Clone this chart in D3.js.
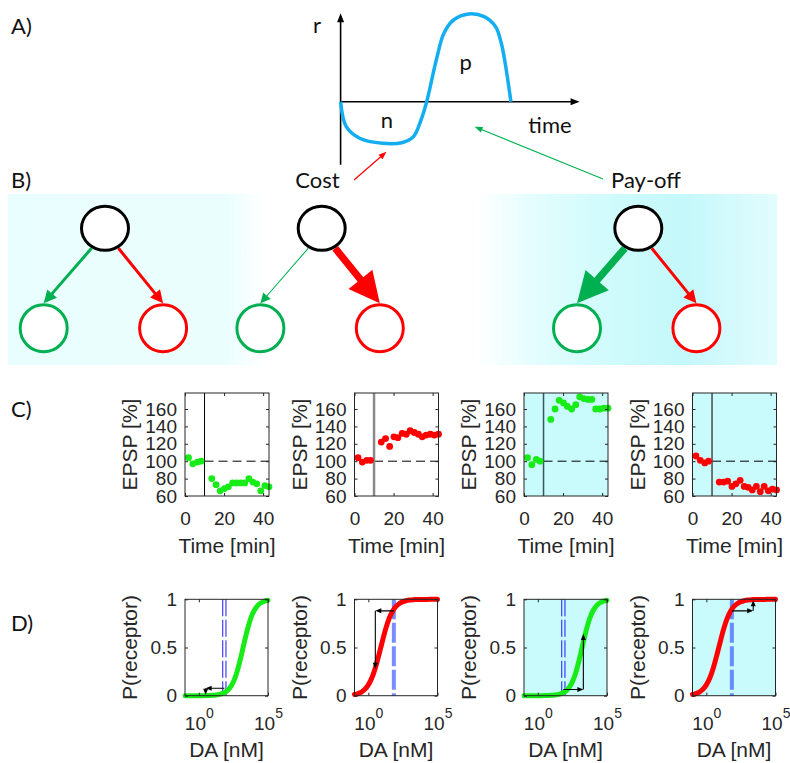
<!DOCTYPE html>
<html><head><meta charset="utf-8">
<script src="https://cdn.jsdelivr.net/npm/d3@7"></script>
<style>body{margin:0;background:#fff} svg{display:block}</style>
</head><body>
<svg id="fig" width="790" height="763"></svg>
<script>
// ================= DATA =================
// Panel A: schematic reward signal r(time)
const aTime = [0, 5.7, 19, 42, 61, 72.7, 80.4, 86.1, 95.7, 103.3, 112.9, 128.2, 143.5, 155, 160.7, 164.6, 170.3];
const aR    = [0, -25, -36.6, -41.6, -41, -35, -18.3, 0, 41.7, 68.4, 81.7, 87.7, 85, 75, 58.4, 38.4, 0];
const aLabels = ["r", "n", "p", "time"];
const aAnnot = ["Cost", "Pay-off"];

// Panel B: relative synaptic weights (green = go, red = no-go) for three trees
const bGreenWeight = [1, 0.35, 2.4];
const bRedWeight   = [1, 2.4, 1];

// Panel C: EPSP [%] vs time [min]
const cPreTime  = [1.8, 4, 6.3, 8.2];
const cPostTime = [13.7, 15.9, 18, 20.2, 22.2, 24.4, 26.5, 28.5, 30.6, 32.7, 34.7, 36.7, 38.8, 40.9, 43];
const cPre1  = [104, 97, 99, 100];
const cPost1 = [80, 73, 66, 68.5, 70.5, 75, 75, 75, 75, 80, 76, 74, 66, 72, 70.5];
const cPre2  = [104, 99, 101, 101];
const cPost2 = [122, 126, 117, 128, 127, 132, 131, 135, 133, 131, 128, 130, 131, 130, 131];
const cPre3  = [104, 96, 102, 100];
const cPost3 = [148, 160, 170, 167, 163, 160, 165, 174, 172, 171, 171, 160, 160, 161, 161];
const cPre4  = [106, 101, 98, 100];
const cPost4 = [76, 76, 77, 71, 74, 78, 71, 70, 67, 71, 65, 71, 66, 68, 67];
const cStimTime = 10;
const cTicksX = [0, 20, 40];
const cTicksY = [60, 80, 100, 120, 140, 160];

// Panel D: receptor occupancy vs DA [nM]
const dLogDA = [-1, -0.75, -0.5, -0.25, 0, 0.25, 0.5, 0.75, 1, 1.25, 1.5, 1.75, 2, 2.25, 2.5, 2.75, 3, 3.25, 3.5, 3.75, 4, 4.25, 4.5, 4.75, 5];
const dGreen = [0, 0.0001, 0.0001, 0.0002, 0.0003, 0.0006, 0.0011, 0.002, 0.004, 0.007, 0.013, 0.025, 0.046, 0.083, 0.145, 0.242, 0.376, 0.532, 0.681, 0.801, 0.884, 0.935, 0.964, 0.981, 0.99];
const dRed   = [0.012, 0.022, 0.038, 0.066, 0.112, 0.183, 0.285, 0.415, 0.557, 0.691, 0.799, 0.876, 0.926, 0.957, 0.976, 0.986, 0.992, 0.996, 0.997, 0.998, 0.999, 0.999, 1, 1, 1];
const dBaselineDA = 70;
const dArrowDA = [[70, 3.1, 3.1], [70, 3.2, 3.2], [70, 1950, 1950], [70, 2450, 2450]];
const dArrowP  = [[0.077, 0.077, 0.01], [0.88, 0.88, 0.28], [0.065, 0.065, 0.64], [0.88, 0.88, 0.99]];
const dTicksX = [1, 1e5];
const dTicksY = [0, 0.5, 1];

// ================= STYLE / LAYOUT =================
const INK = "#262626";
const GREEN = "#18ec18", RED = "#ff0000", OGREEN = "#00b050", CYAN = "#c9fafc", BLUE_A = "#14aef0";
const FONT_AX = "'Liberation Sans', Arial, sans-serif";
const FONT_LB = "Lato, 'Open Sans', sans-serif";
const svg = d3.select("#fig");
const defs = svg.append("defs");

function arrowPath(x1, y1, x2, y2, w, hl, hw) {
  const dx = x2 - x1, dy = y2 - y1, L = Math.hypot(dx, dy), ux = dx / L, uy = dy / L, nx = -uy, ny = ux;
  const bx = x2 - ux * hl, by = y2 - uy * hl;
  const p = [[x1 + nx * w / 2, y1 + ny * w / 2], [bx + nx * w / 2, by + ny * w / 2], [bx + nx * hw / 2, by + ny * hw / 2],
             [x2, y2], [bx - nx * hw / 2, by - ny * hw / 2], [bx - nx * w / 2, by - ny * w / 2], [x1 - nx * w / 2, y1 - ny * w / 2]];
  return "M" + p.map(q => q[0].toFixed(2) + "," + q[1].toFixed(2)).join("L") + "Z";
}

// panel letters
const panelLetters = ["A)", "B)", "C)", "D)"];
const panelLetterY = [34, 188, 417, 631];
panelLetters.forEach((t, i) => svg.append("text").attr("x", 11).attr("y", panelLetterY[i])
  .attr("font-family", FONT_LB).attr("font-size", 22).attr("fill", "#111").text(t));

// ================= PANEL B background =================
const grad = defs.append("linearGradient").attr("id", "bgB").attr("gradientUnits", "userSpaceOnUse")
  .attr("x1", 8).attr("x2", 777).attr("y1", 0).attr("y2", 0);
[[8, "#e9fefe"], [228, "#ebfefe"], [262, "#ffffff"], [476, "#ffffff"], [533, "#e4fdfd"], [600, "#d2fbfc"],
 [683, "#c4f8fa"], [717, "#cff9fb"], [777, "#e2fcfd"]].forEach(s =>
  grad.append("stop").attr("offset", ((s[0] - 8) / 769).toFixed(4)).attr("stop-color", s[1]));
svg.append("rect").attr("x", 8).attr("y", 194).attr("width", 769).attr("height", 171).attr("fill", "url(#bgB)");

// ================= PANEL A =================
const xA = d3.scaleLinear().domain([0, 239]).range([340.6, 579.6]);
const yA = d3.scaleLinear().domain([-63, 88]).range([164.7, 13.7]);
const gA = svg.append("g");
gA.append("path").attr("d", arrowPath(xA(0), yA(-63), xA(0), yA(88.5), 1.6, 9, 7)).attr("fill", "#000");
gA.append("path").attr("d", arrowPath(xA(0), yA(0), xA(239), yA(0), 1.6, 9, 7)).attr("fill", "#000");
gA.append("path").datum(aTime.map((t, i) => [t, aR[i]]))
  .attr("d", d3.line().x(d => xA(d[0])).y(d => yA(d[1])).curve(d3.curveCatmullRom.alpha(0.5)))
  .attr("fill", "none").attr("stroke", BLUE_A).attr("stroke-width", 3.5);
const aLabelPos = [[-23.6, 68.7], [46.4, -26.3], [125, 31.7], [209.4, -31.3]];
aLabels.forEach((t, i) => gA.append("text").attr("x", xA(aLabelPos[i][0])).attr("y", yA(aLabelPos[i][1]))
  .attr("text-anchor", "middle").attr("font-family", FONT_LB).attr("font-size", 22).attr("fill", "#111").text(t));
const aAnnotPos = [[-23.1, -86.3], [305.4, -86.3]];
aAnnot.forEach((t, i) => gA.append("text").attr("x", xA(aAnnotPos[i][0])).attr("y", yA(aAnnotPos[i][1]))
  .attr("text-anchor", "middle").attr("font-family", FONT_LB).attr("font-size", 22).attr("fill", "#111").text(t));
gA.append("path").attr("d", arrowPath(xA(13.4), yA(-78.3), xA(45.9), yA(-50), 1.2, 8, 6)).attr("fill", RED);
gA.append("path").attr("d", arrowPath(xA(262.4), yA(-77.3), xA(134), yA(-25), 1.1, 8, 6)).attr("fill", OGREEN);

// ================= PANEL B trees =================
const bTreeX = [105, 321.7, 638.3];
const bTopY = 228.3, bBotY = 328.3;
const gB = svg.append("g");
bTreeX.forEach((tx, i) => {
  const gx = tx - 61.3, rx = tx + 58.1;
  const arrows = [[gx, -13.5, bGreenWeight[i], OGREEN], [rx, 13.5, bRedWeight[i], RED]];
  arrows.forEach(a => {
    const wt = a[2];
    const w = Math.max(1, 3 * wt), hl = Math.max(10, 12.8 * wt);
    gB.append("path").attr("d", arrowPath(tx + a[1], bTopY + 20, a[0], bBotY - 25, w, hl, hl)).attr("fill", a[3]);
  });
  gB.append("ellipse").attr("cx", tx).attr("cy", bTopY).attr("rx", 23.5).attr("ry", 22)
    .attr("fill", "#fff").attr("stroke", "#000").attr("stroke-width", 3);
  gB.append("ellipse").attr("cx", gx).attr("cy", bBotY).attr("rx", 23.5).attr("ry", 23.5)
    .attr("fill", "#fff").attr("stroke", OGREEN).attr("stroke-width", 3);
  gB.append("ellipse").attr("cx", rx).attr("cy", bBotY).attr("rx", 23.5).attr("ry", 23.5)
    .attr("fill", "#fff").attr("stroke", RED).attr("stroke-width", 3);
});

// ================= PANEL C =================
const subLefts = [185, 354.5, 524, 692.5];
const cPre = [cPre1, cPre2, cPre3, cPre4];
const cPost = [cPost1, cPost2, cPost3, cPost4];
const cStyle = [
  {dot: GREEN, bg: null, stim: "#000", stimW: 1},
  {dot: RED, bg: null, stim: "#8a8a8a", stimW: 2.5},
  {dot: GREEN, bg: CYAN, stim: "#35585a", stimW: 1.5},
  {dot: RED, bg: CYAN, stim: "#4a4a4a", stimW: 1.5}];

function styleAxis(g) {
  g.select(".domain").remove();
  g.selectAll("line").attr("stroke", INK);
  g.selectAll("text").attr("fill", INK);
  g.attr("font-family", FONT_AX).attr("font-size", 19);
}

subLefts.forEach((L, i) => {
  const W = 84, top = 393, bot = 496;
  const x = d3.scaleLinear().domain([0, 43]).range([L, L + W]);
  const y = d3.scaleLinear().domain([60, 178.4]).range([bot, top]);
  const g = svg.append("g");
  if (cStyle[i].bg) g.append("rect").attr("x", L).attr("y", top).attr("width", W).attr("height", bot - top).attr("fill", cStyle[i].bg);
  g.append("line").attr("x1", x(cStimTime)).attr("x2", x(43)).attr("y1", y(100)).attr("y2", y(100))
    .attr("stroke", "#000").attr("stroke-width", 1).attr("stroke-dasharray", "9,5");
  g.append("line").attr("x1", x(cStimTime)).attr("x2", x(cStimTime)).attr("y1", top).attr("y2", bot)
    .attr("stroke", cStyle[i].stim).attr("stroke-width", cStyle[i].stimW);
  const pts = cPreTime.map((t, k) => [t, cPre[i][k]]).concat(cPostTime.map((t, k) => [t, cPost[i][k]]));
  g.selectAll("circle.d").data(pts).enter().append("circle")
    .attr("cx", d => x(d[0])).attr("cy", d => y(d[1])).attr("r", 3.4).attr("fill", cStyle[i].dot);
  g.append("g").attr("transform", `translate(0,${bot})`)
    .call(d3.axisBottom(x).tickValues(cTicksX).tickSize(-3).tickPadding(16).tickFormat(d3.format("d"))).call(styleAxis);
  g.append("g").attr("transform", `translate(0,${top})`)
    .call(d3.axisTop(x).tickValues(cTicksX).tickSize(-3).tickFormat("")).call(styleAxis);
  g.append("g").attr("transform", `translate(${L},0)`)
    .call(d3.axisLeft(y).tickValues(cTicksY).tickSize(-3).tickPadding(8).tickFormat(d3.format("d"))).call(styleAxis);
  g.append("g").attr("transform", `translate(${L + W},0)`)
    .call(d3.axisRight(y).tickValues(cTicksY).tickSize(-3).tickFormat("")).call(styleAxis);
  g.append("rect").attr("x", L).attr("y", top).attr("width", W).attr("height", bot - top)
    .attr("fill", "none").attr("stroke", INK).attr("stroke-width", 1);
  g.append("text").attr("x", L + W / 2).attr("y", 553).attr("text-anchor", "middle")
    .attr("font-family", FONT_AX).attr("font-size", 21).attr("fill", INK).text("Time [min]");
  g.append("text").attr("transform", `translate(${L - 48},${(top + bot) / 2}) rotate(-90)`).attr("text-anchor", "middle")
    .attr("font-family", FONT_AX).attr("font-size", 21).attr("fill", INK).text("EPSP [%]");
});

// ================= PANEL D =================
const dStyle = [
  {curve: dGreen, color: GREEN, bg: null, dashDouble: true},
  {curve: dRed, color: RED, bg: null, dashDouble: false},
  {curve: dGreen, color: GREEN, bg: CYAN, dashDouble: true},
  {curve: dRed, color: RED, bg: CYAN, dashDouble: false}];

subLefts.forEach((L, i) => {
  const W = 83, top = 599.3, bot = 695.7;
  const x = d3.scaleLog().domain([0.1, 1e5]).range([L, L + W]);
  const y = d3.scaleLinear().domain([0, 1]).range([bot, top]);
  const st = dStyle[i];
  const g = svg.append("g");
  if (st.bg) g.append("rect").attr("x", L).attr("y", top).attr("width", W).attr("height", bot - top).attr("fill", st.bg);
  const xd = x(dBaselineDA);
  if (st.dashDouble) {
    [-1.6, 1.6].forEach(o => g.append("line").attr("x1", xd + o).attr("x2", xd + o).attr("y1", top).attr("y2", bot)
      .attr("stroke", "#1a1aff").attr("stroke-width", 1).attr("stroke-dasharray", "17,3.5"));
  } else {
    g.append("line").attr("x1", xd).attr("x2", xd).attr("y1", top).attr("y2", bot)
      .attr("stroke", "#3d5cff").attr("stroke-opacity", 0.7).attr("stroke-width", 4).attr("stroke-dasharray", "20,3.5");
  }
  g.append("path").datum(dLogDA.map((l, k) => [Math.pow(10, l), st.curve[k]]))
    .attr("d", d3.line().x(d => x(d[0])).y(d => y(d[1])).curve(d3.curveMonotoneX))
    .attr("fill", "none").attr("stroke", st.color).attr("stroke-width", 5).attr("stroke-linecap", "round");
  const ax = dArrowDA[i], ap = dArrowP[i];
  for (let k = 0; k < ax.length - 1; k++) {
    g.append("path").attr("d", arrowPath(x(ax[k]), y(ap[k]), x(ax[k + 1]), y(ap[k + 1]), 1.1, 6, 5)).attr("fill", "#000");
  }
  const bx = g.append("g").attr("transform", `translate(0,${bot})`)
    .call(d3.axisBottom(x).tickValues(dTicksX).tickSize(-3).tickPadding(21).tickFormat(() => "")).call(styleAxis);
  bx.selectAll(".tick text").each(function (d) {
    const t = d3.select(this);
    t.append("tspan").text("10");
    t.append("tspan").attr("dy", -12).attr("font-size", 14).text(Math.round(Math.log10(d)));
  });
  g.append("g").attr("transform", `translate(0,${top})`)
    .call(d3.axisTop(x).tickValues(dTicksX).tickSize(-3).tickFormat("")).call(styleAxis);
  g.append("g").attr("transform", `translate(${L},0)`)
    .call(d3.axisLeft(y).tickValues(dTicksY).tickSize(-3).tickPadding(8).tickFormat(d => String(d))).call(styleAxis);
  g.append("g").attr("transform", `translate(${L + W},0)`)
    .call(d3.axisRight(y).tickValues(dTicksY).tickSize(-3).tickFormat("")).call(styleAxis);
  g.append("rect").attr("x", L).attr("y", top).attr("width", W).attr("height", bot - top)
    .attr("fill", "none").attr("stroke", INK).attr("stroke-width", 1);
  g.append("text").attr("x", L + W / 2).attr("y", 757).attr("text-anchor", "middle")
    .attr("font-family", FONT_AX).attr("font-size", 21).attr("fill", INK).text("DA [nM]");
  g.append("text").attr("transform", `translate(${L - 48},${(top + bot) / 2}) rotate(-90)`).attr("text-anchor", "middle")
    .attr("font-family", FONT_AX).attr("font-size", 21).attr("fill", INK).text("P(receptor)");
});
</script>
</body></html>
